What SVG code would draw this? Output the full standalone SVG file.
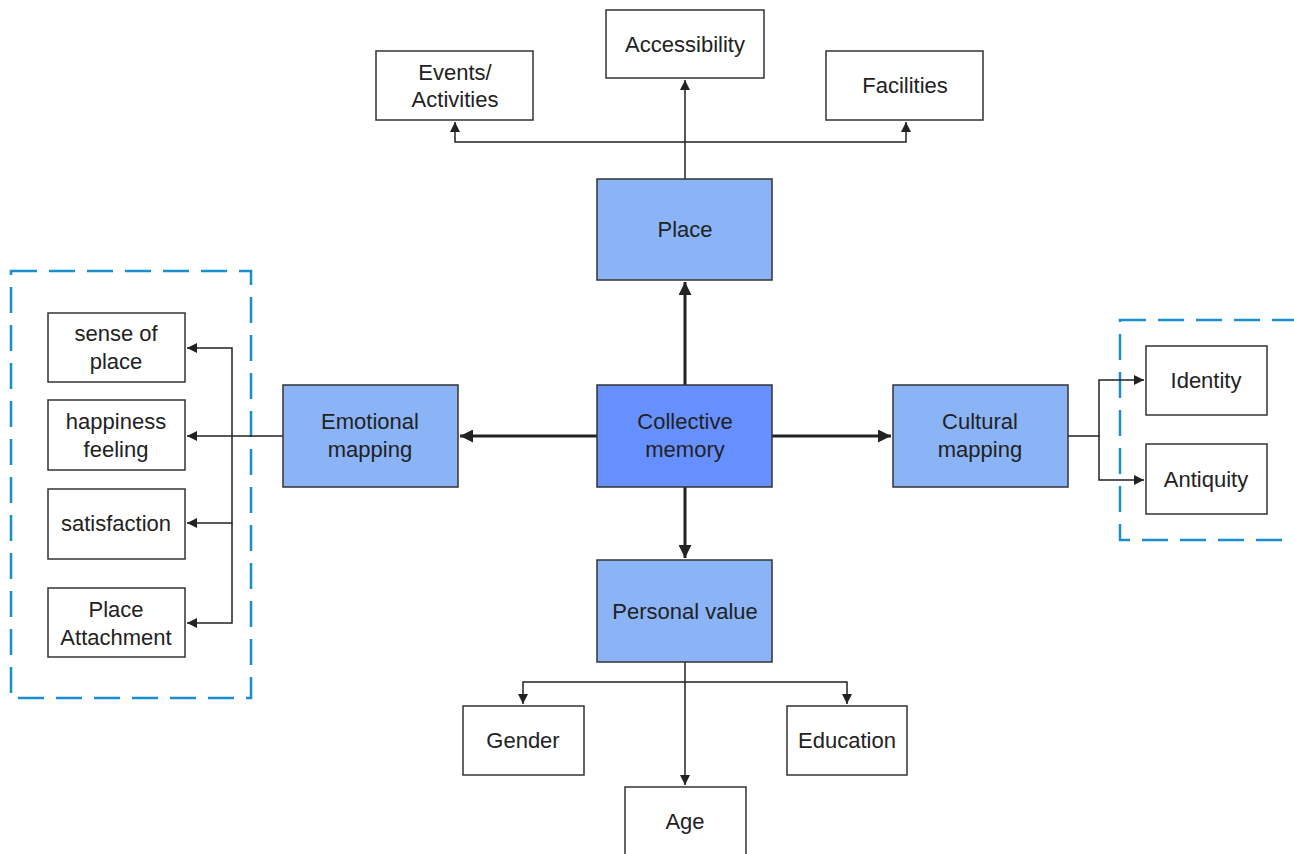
<svg xmlns="http://www.w3.org/2000/svg" width="1294" height="854" viewBox="0 0 1294 854">
<style>
.box{fill:#fff;stroke:#333;stroke-width:1.5}
.blue{fill:#8ab4f6;stroke:#333;stroke-width:1.5}
.core{fill:#6690ff;stroke:#333;stroke-width:1.5}
.t{font-family:"Liberation Sans",Arial,sans-serif;font-size:22px;fill:#222;text-anchor:middle}
.ln{fill:none;stroke:#222;stroke-width:1.5}
.thick{fill:none;stroke:#222;stroke-width:3}
.dash{fill:none;stroke:#1a8fd0;stroke-width:2.5;stroke-dasharray:26 12}
</style>
<defs>
<marker id="a" viewBox="0 0 10 10" refX="10" refY="5" markerWidth="10" markerHeight="10" markerUnits="userSpaceOnUse" orient="auto"><path d="M0,0L10,5L0,10z" fill="#222"/></marker>
<marker id="b" viewBox="0 0 10 10" refX="10" refY="5" markerWidth="13" markerHeight="13" markerUnits="userSpaceOnUse" orient="auto"><path d="M0,0L10,5L0,10z" fill="#222"/></marker>
</defs>
<rect class="dash" x="11" y="271" width="240" height="427"/>
<rect class="dash" x="1120" y="320" width="180" height="220"/>
<g id="connectors">
<path class="ln" d="M685,179V80" marker-end="url(#a)"/>
<path class="ln" d="M685,142H455V122" marker-end="url(#a)"/>
<path class="ln" d="M685,142H906V122" marker-end="url(#a)"/>
<path class="thick" d="M685,385V282" marker-end="url(#b)"/>
<path class="thick" d="M597,436H460" marker-end="url(#b)"/>
<path class="thick" d="M772,436H891" marker-end="url(#b)"/>
<path class="thick" d="M685,487V558" marker-end="url(#b)"/>
<path class="ln" d="M283,436H187" marker-end="url(#a)"/>
<path class="ln" d="M232,436V348H187" marker-end="url(#a)"/>
<path class="ln" d="M232,436V523H187" marker-end="url(#a)"/>
<path class="ln" d="M232,523V623H187" marker-end="url(#a)"/>
<path class="ln" d="M1068,436H1099V380H1144" marker-end="url(#a)"/>
<path class="ln" d="M1099,436V480H1144" marker-end="url(#a)"/>
<path class="ln" d="M685,662V785" marker-end="url(#a)"/>
<path class="ln" d="M685,682H523V704" marker-end="url(#a)"/>
<path class="ln" d="M685,682H847V704" marker-end="url(#a)"/>
</g>
<g id="accessibility"><rect class="box" x="606" y="10" width="158" height="68"/><text class="t" x="685" y="52">Accessibility</text></g>
<g id="events"><rect class="box" x="376" y="51" width="157" height="69"/><text class="t" x="455" y="80">Events/</text><text class="t" x="455" y="107">Activities</text></g>
<g id="facilities"><rect class="box" x="826" y="51" width="157" height="69"/><text class="t" x="905" y="93">Facilities</text></g>
<g id="place"><rect class="blue" x="597" y="179" width="175" height="101"/><text class="t" x="685" y="237">Place</text></g>
<g id="collective"><rect class="core" x="597" y="385" width="175" height="102"/><text class="t" x="685" y="429">Collective</text><text class="t" x="685" y="457">memory</text></g>
<g id="emotional"><rect class="blue" x="283" y="385" width="175" height="102"/><text class="t" x="370" y="429">Emotional</text><text class="t" x="370" y="457">mapping</text></g>
<g id="cultural"><rect class="blue" x="893" y="385" width="175" height="102"/><text class="t" x="980" y="429">Cultural</text><text class="t" x="980" y="457">mapping</text></g>
<g id="personal"><rect class="blue" x="597" y="560" width="175" height="102"/><text class="t" x="685" y="619">Personal value</text></g>
<g id="sense"><rect class="box" x="48" y="313" width="137" height="69"/><text class="t" x="116" y="341">sense of</text><text class="t" x="116" y="369">place</text></g>
<g id="happiness"><rect class="box" x="48" y="400" width="137" height="70"/><text class="t" x="116" y="429">happiness</text><text class="t" x="116" y="457">feeling</text></g>
<g id="satisfaction"><rect class="box" x="48" y="489" width="137" height="70"/><text class="t" x="116" y="531">satisfaction</text></g>
<g id="attachment"><rect class="box" x="48" y="588" width="137" height="69"/><text class="t" x="116" y="617">Place</text><text class="t" x="116" y="645">Attachment</text></g>
<g id="identity"><rect class="box" x="1146" y="346" width="121" height="69"/><text class="t" x="1206" y="388">Identity</text></g>
<g id="antiquity"><rect class="box" x="1146" y="444" width="121" height="70"/><text class="t" x="1206" y="487">Antiquity</text></g>
<g id="gender"><rect class="box" x="463" y="706" width="121" height="69"/><text class="t" x="523" y="748">Gender</text></g>
<g id="education"><rect class="box" x="787" y="706" width="120" height="69"/><text class="t" x="847" y="748">Education</text></g>
<g id="age"><rect class="box" x="625" y="787" width="121" height="80"/><text class="t" x="685" y="829">Age</text></g>
</svg>
